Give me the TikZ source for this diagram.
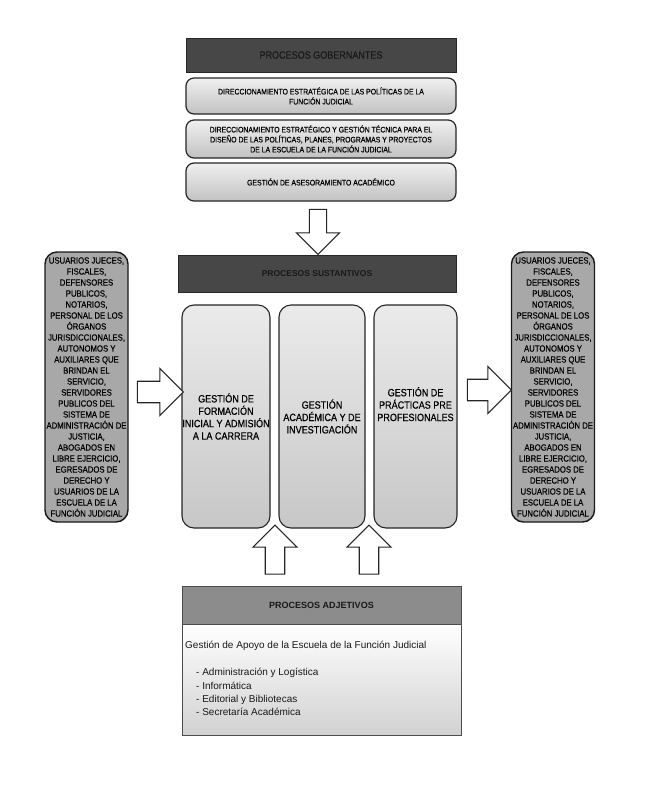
\documentclass[tikz,border=0pt]{standalone}
\usepackage{fontspec}
\setmainfont{Liberation Sans}
\newfontfamily\cond[FakeStretch=0.86,FakeBold=0.5]{Liberation Sans}
\usetikzlibrary{shapes.arrows}
\begin{document}
\begin{tikzpicture}[x=1pt,y=-1pt,
  darkhdr/.style={draw=black!85, line width=1pt, fill=black!72, text=black!90, inner sep=0pt},
  gobbox/.style={draw=black!85, line width=1.2pt, rounded corners=8pt, top color=black!6, bottom color=black!24,
     align=center, inner sep=0pt, minimum width=270, font=\cond\fontsize{8}{10}\selectfont},
  colbox/.style={draw=black!85, line width=1.1pt, rounded corners=12pt, top color=black!8, bottom color=black!22,
     align=center, inner sep=0pt, minimum height=223, font=\cond\fontsize{10.5}{12.4}\selectfont},
  sidebox/.style={draw=black!90, line width=1.4pt, rounded corners=12pt, fill=black!34,
     align=center, inner sep=0pt, minimum width=83, minimum height=270, font=\cond\fontsize{9}{11}\selectfont},
  blockarrow/.style={single arrow, draw=black!85, line width=1.1pt, fill=white,
     single arrow head extend=12pt, single arrow tip angle=90},
]
\useasboundingbox[fill=white] (0,0) rectangle (654,788);

% Procesos gobernantes
\node[darkhdr, minimum width=270, minimum height=34, font=\cond\fontsize{10.5}{12}\selectfont] (gob) at (321,55) {PROCESOS GOBERNANTES};
\node[gobbox, minimum height=36] (g1) at (321,96) {DIRECCIONAMIENTO ESTRATÉGICA DE LAS POLÍTICAS DE LA\\FUNCIÓN JUDICIAL};
\node[gobbox, minimum height=38] (g2) at (321,139) {DIRECCIONAMIENTO ESTRATÉGICO Y GESTIÓN TÉCNICA PARA EL\\DISEÑO DE LAS POLÍTICAS, PLANES, PROGRAMAS Y PROYECTOS\\DE LA ESCUELA DE LA FUNCIÓN JUDICIAL};
\node[gobbox, minimum height=38] (g3) at (321,182) {GESTIÓN DE ASESORAMIENTO ACADÉMICO};

\node[blockarrow, shape border rotate=270, inner xsep=7.5pt, inner ysep=0pt, minimum height=45, minimum width=43] (adown) at (318,227.5) {};

% Procesos sustantivos
\node[darkhdr, minimum width=278, minimum height=37, font=\bfseries\fontsize{8.5}{10}\selectfont] (sus) at (317,273.5) {PROCESOS SUSTANTIVOS};
\node[colbox, minimum width=88] (c1) at (226,416.5) {GESTIÓN DE\\FORMACIÓN\\INICIAL Y ADMISIÓN\\A LA CARRERA};
\node[colbox, minimum width=86] (c2) at (322,416.5) {GESTIÓN\\ACADÉMICA Y DE\\INVESTIGACIÓN};
\node[colbox, minimum width=83] (c3) at (415.5,416.5) {GESTIÓN DE\\PRÁCTICAS PRE\\PROFESIONALES\\[12.4pt]};

% side boxes
\node[sidebox] (left) at (86.5,387) {USUARIOS JUECES,\\FISCALES,\\DEFENSORES\\PUBLICOS,\\NOTARIOS,\\PERSONAL DE LOS\\ÓRGANOS\\JURISDICCIONALES,\\AUTONOMOS Y\\AUXILIARES QUE\\BRINDAN EL\\SERVICIO,\\SERVIDORES\\PUBLICOS DEL\\SISTEMA DE\\ADMINISTRACIÓN DE\\JUSTICIA,\\ABOGADOS EN\\LIBRE EJERCICIO,\\EGRESADOS DE\\DERECHO Y\\USUARIOS DE LA\\ESCUELA DE LA\\FUNCIÓN JUDICIAL};
\node[sidebox] (right) at (553,387) {USUARIOS JUECES,\\FISCALES,\\DEFENSORES\\PUBLICOS,\\NOTARIOS,\\PERSONAL DE LOS\\ÓRGANOS\\JURISDICCIONALES,\\AUTONOMOS Y\\AUXILIARES QUE\\BRINDAN EL\\SERVICIO,\\SERVIDORES\\PUBLICOS DEL\\SISTEMA DE\\ADMINISTRACIÓN DE\\JUSTICIA,\\ABOGADOS EN\\LIBRE EJERCICIO,\\EGRESADOS DE\\DERECHO Y\\USUARIOS DE LA\\ESCUELA DE LA\\FUNCIÓN JUDICIAL};

\node[blockarrow, inner xsep=0pt, inner ysep=9.5pt, minimum height=46, minimum width=47] (aleft) at (155,392) {};
\node[blockarrow, inner xsep=0pt, inner ysep=9.5pt, minimum height=44, minimum width=47] (aright) at (484,390) {};

\node[blockarrow, shape border rotate=90, inner xsep=9pt, inner ysep=0pt, minimum height=49, minimum width=44] (aup1) at (275,554.5) {};
\node[blockarrow, shape border rotate=90, inner xsep=9pt, inner ysep=0pt, minimum height=49, minimum width=44] (aup2) at (369,554.5) {};

% Procesos adjetivos
\node[draw=black!70, line width=0.9pt, fill=black!45, inner sep=0pt, minimum width=279, minimum height=38, font=\bfseries\fontsize{9}{11}\selectfont, text=black!90] (adj) at (321.5,605) {PROCESOS ADJETIVOS};
\node[draw=black!70, line width=0.9pt, top color=white, bottom color=black!18, inner sep=0pt, minimum width=279, minimum height=111] (adjbody) at (321.5,679.5) {};
\node[anchor=north west, align=left, inner sep=0pt, font=\fontsize{10}{13.3}\selectfont, text=black!90] (adjtext) at (185,641)
  {Gestión de Apoyo de la Escuela de la Función Judicial\\[14pt]
   \hspace*{11pt}- Administración y Logística\\
   \hspace*{11pt}- Informática\\
   \hspace*{11pt}- Editorial y Bibliotecas\\
   \hspace*{11pt}- Secretaría Académica};
\end{tikzpicture}
\end{document}
